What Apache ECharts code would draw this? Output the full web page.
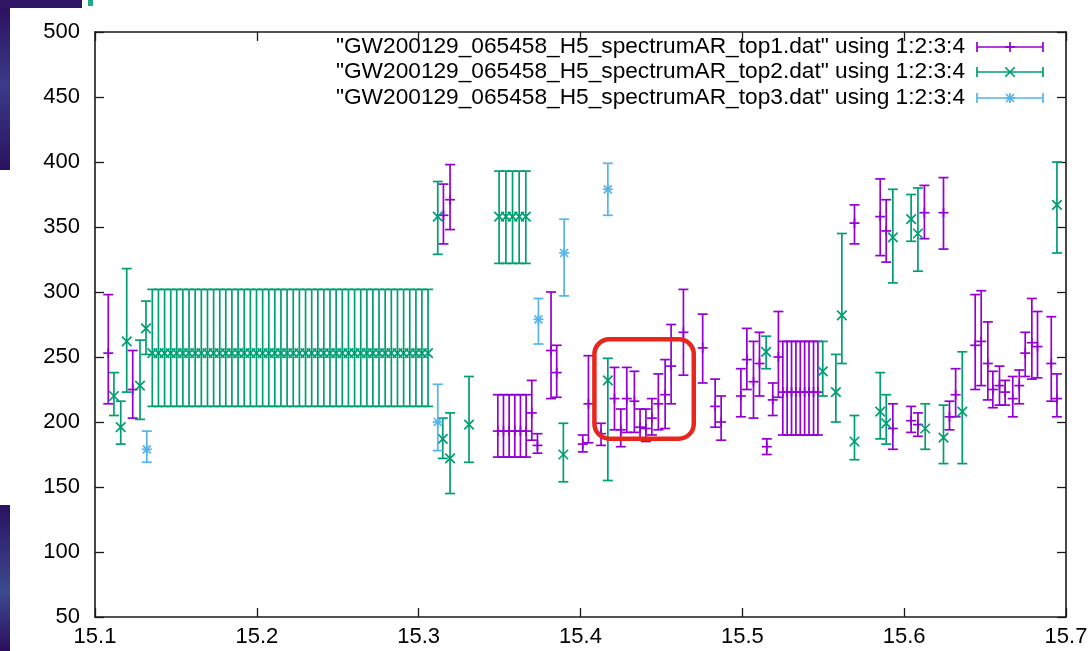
<!DOCTYPE html>
<html>
<head>
<meta charset="utf-8">
<script src="https://cdn.jsdelivr.net/npm/echarts@6/dist/echarts.min.js"></script>
<style>
  html, body { margin: 0; padding: 0; background: #fff; }
  #chart { width: 1091px; height: 651px; }
</style>
</head>
<body>
<div id="chart"></div>
<script>
// Axis ticks
const xTicks = [15.1, 15.2, 15.3, 15.4, 15.5, 15.6, 15.7];
const yTicks = [50, 100, 150, 200, 250, 300, 350, 400, 450, 500];

// Each row: [frequency, value, lower, upper]  (columns 1:2:3:4)
const top1 = [
  [15.1082, 253, 214, 298], [15.1233, 225, 203, 255],
  [15.3153, 359, 337, 383], [15.3194, 371, 348, 398],
  [15.3489, 193, 173, 221], [15.3524, 193, 173, 221], [15.3559, 193, 173, 221],
  [15.3594, 193, 173, 221], [15.3629, 193, 173, 221], [15.3664, 193, 173, 221],
  [15.3699, 207, 186, 232], [15.3734, 182, 176, 191],
  [15.3818, 255, 218, 300], [15.3853, 238, 219, 259],
  [15.4014, 183, 177, 190], [15.4049, 214, 184, 251], [15.4127, 191, 182, 199],
  [15.4210, 218, 194, 242], [15.4249, 194, 181, 210], [15.4286, 218, 192, 242],
  [15.4333, 216, 192, 239], [15.4368, 196, 187, 210], [15.4404, 195, 185, 210],
  [15.4441, 203, 190, 218], [15.4481, 214, 194, 237], [15.4523, 221, 195, 248],
  [15.4560, 243, 214, 275], [15.4636, 269, 236, 302], [15.4755, 257, 230, 283],
  [15.4832, 212, 196, 233], [15.4869, 200, 186, 220],
  [15.4991, 220, 204, 241], [15.5028, 248, 225, 272], [15.5069, 231, 203, 262],
  [15.5106, 245, 220, 269], [15.5151, 181, 175, 187], [15.5188, 217, 205, 230],
  [15.5223, 250, 219, 285],
  [15.5250, 223, 190, 262], [15.5277, 223, 190, 262], [15.5304, 223, 190, 262],
  [15.5331, 223, 190, 262], [15.5358, 223, 190, 262], [15.5385, 223, 190, 262],
  [15.5412, 223, 190, 262], [15.5440, 223, 190, 262], [15.5467, 223, 190, 262],
  [15.5693, 353, 337, 367], [15.5852, 358, 328, 387], [15.5889, 347, 323, 371],
  [15.5930, 195, 179, 214], [15.6043, 201, 192, 212], [15.6085, 198, 189, 207],
  [15.6125, 361, 341, 382], [15.6243, 361, 333, 388],
  [15.6280, 204, 194, 216], [15.6318, 221, 204, 241],
  [15.6439, 259, 225, 298], [15.6476, 262, 228, 301], [15.6517, 245, 217, 277],
  [15.6548, 225, 211, 239], [15.6589, 228, 213, 243], [15.6624, 223, 213, 232],
  [15.6671, 218, 204, 235], [15.6711, 228, 214, 240], [15.6748, 253, 235, 269],
  [15.6789, 261, 233, 295], [15.6824, 258, 234, 285],
  [15.6909, 245, 216, 281], [15.6944, 218, 204, 237]
];

const top2 = [
  [15.1117, 220, 205, 238], [15.1159, 196, 183, 216], [15.1196, 262, 223, 318],
  [15.1278, 228, 202, 263], [15.1315, 272, 252, 293],
  [15.1354, 253, 212, 302], [15.1392, 253, 212, 302], [15.1430, 253, 212, 302],
  [15.1468, 253, 212, 302], [15.1505, 253, 212, 302], [15.1543, 253, 212, 302],
  [15.1581, 253, 212, 302], [15.1619, 253, 212, 302], [15.1657, 253, 212, 302],
  [15.1695, 253, 212, 302], [15.1733, 253, 212, 302], [15.1771, 253, 212, 302],
  [15.1808, 253, 212, 302], [15.1846, 253, 212, 302], [15.1884, 253, 212, 302],
  [15.1922, 253, 212, 302], [15.1960, 253, 212, 302], [15.1998, 253, 212, 302],
  [15.2036, 253, 212, 302], [15.2074, 253, 212, 302], [15.2111, 253, 212, 302],
  [15.2149, 253, 212, 302], [15.2187, 253, 212, 302], [15.2225, 253, 212, 302],
  [15.2263, 253, 212, 302], [15.2301, 253, 212, 302], [15.2339, 253, 212, 302],
  [15.2377, 253, 212, 302], [15.2414, 253, 212, 302], [15.2452, 253, 212, 302],
  [15.2490, 253, 212, 302], [15.2528, 253, 212, 302], [15.2566, 253, 212, 302],
  [15.2604, 253, 212, 302], [15.2642, 253, 212, 302], [15.2680, 253, 212, 302],
  [15.2717, 253, 212, 302], [15.2755, 253, 212, 302], [15.2793, 253, 212, 302],
  [15.2831, 253, 212, 302], [15.2869, 253, 212, 302], [15.2907, 253, 212, 302],
  [15.2945, 253, 212, 302], [15.2983, 253, 212, 302], [15.3020, 253, 212, 302],
  [15.3058, 253, 212, 302],
  [15.3118, 358, 329, 385], [15.3149, 187, 172, 203], [15.3194, 172, 145, 207],
  [15.3311, 198, 169, 235],
  [15.3497, 358, 322, 393], [15.3539, 358, 322, 393], [15.3580, 358, 322, 393],
  [15.3621, 358, 322, 393], [15.3662, 358, 322, 393],
  [15.3894, 175, 154, 199], [15.4169, 232, 155, 249],
  [15.5147, 254, 241, 266], [15.5497, 239, 220, 262], [15.5578, 223, 200, 252],
  [15.5615, 282, 245, 345], [15.5693, 185, 171, 205],
  [15.5852, 208, 187, 238], [15.5889, 199, 183, 221], [15.5930, 342, 307, 379],
  [15.6043, 356, 339, 375], [15.6085, 345, 316, 380], [15.6130, 195, 179, 214],
  [15.6243, 188, 168, 213], [15.6359, 208, 168, 254],
  [15.6944, 367, 330, 400]
];

const top3 = [
  [15.1320, 179, 169, 193], [15.3118, 200, 178, 229], [15.3740, 279, 260, 295],
  [15.3899, 330, 297, 356], [15.4169, 379, 359, 399]
];

const legendLabels = [
  '"GW200129_065458_H5_spectrumAR_top1.dat" using 1:2:3:4',
  '"GW200129_065458_H5_spectrumAR_top2.dat" using 1:2:3:4',
  '"GW200129_065458_H5_spectrumAR_top3.dat" using 1:2:3:4'
];

// Highlighted region (frequency and value corners)
const highlightBox = [[15.4086, 263.6], [15.4700, 187.2]];

const colors = ['#9400d3', '#009e73', '#56b4e9'];
const markers = ['plus', 'cross', 'star'];
const FONT = '"Liberation Sans", Arial, Helvetica, sans-serif';
const LW = 1.7;
const CAP = 5;

function markerShapes(kind, x, y, color, size) {
  const s = { stroke: color, lineWidth: LW, fill: null };
  const out = [];
  const h = size;
  if (kind === 'plus' || kind === 'star') {
    out.push({ type: 'line', shape: { x1: x - h, y1: y, x2: x + h, y2: y }, style: s });
    out.push({ type: 'line', shape: { x1: x, y1: y - h, x2: x, y2: y + h }, style: s });
  }
  if (kind === 'cross' || kind === 'star') {
    const d = kind === 'star' ? h * 0.8 : h * 0.95;
    out.push({ type: 'line', shape: { x1: x - d, y1: y - d, x2: x + d, y2: y + d }, style: s });
    out.push({ type: 'line', shape: { x1: x - d, y1: y + d, x2: x + d, y2: y - d }, style: s });
  }
  return out;
}

function errorBarSeries(name, rows, color, marker) {
  return {
    type: 'custom',
    name: name,
    data: rows,
    encode: { x: 0, y: [1, 2, 3] },
    renderItem: function (params, api) {
      const f = api.value(0);
      const c = api.coord([f, api.value(1)]);
      const lo = api.coord([f, api.value(2)]);
      const hi = api.coord([f, api.value(3)]);
      const s = { stroke: color, lineWidth: LW, fill: null };
      const children = [
        { type: 'line', shape: { x1: c[0], y1: hi[1], x2: c[0], y2: lo[1] }, style: s },
        { type: 'line', shape: { x1: c[0] - CAP, y1: hi[1], x2: c[0] + CAP, y2: hi[1] }, style: s },
        { type: 'line', shape: { x1: c[0] - CAP, y1: lo[1], x2: c[0] + CAP, y2: lo[1] }, style: s }
      ].concat(markerShapes(marker, c[0], c[1], color, 5));
      return { type: 'group', children: children };
    }
  };
}

const chart = echarts.init(document.getElementById('chart'), null, { renderer: 'canvas' });

const axisLine = { show: true, lineStyle: { color: '#1a1a1a', width: 1.6 } };
const axisTick = { show: true, inside: true, length: 9, lineStyle: { color: '#1a1a1a', width: 1.3 } };

const xMin = xTicks[0], xMax = xTicks[xTicks.length - 1];
const yMin = yTicks[0], yMax = yTicks[yTicks.length - 1];

const option = {
  animation: false,
  backgroundColor: '#ffffff',
  grid: { left: 95, right: 25, top: 32, bottom: 34, containLabel: false },
  xAxis: [
    {
      type: 'value', min: xMin, max: xMax, interval: 0.1, position: 'bottom',
      axisLine: axisLine, axisTick: axisTick, splitLine: { show: false },
      axisLabel: {
        color: '#000', fontSize: 22, fontFamily: FONT, margin: 9,
        formatter: function (v) { return v.toFixed(1); }
      }
    },
    {
      type: 'value', min: xMin, max: xMax, interval: 0.1, position: 'top',
      axisLine: axisLine, axisTick: axisTick, splitLine: { show: false },
      axisLabel: { show: false }
    }
  ],
  yAxis: [
    {
      type: 'value', min: yMin, max: yMax, interval: 50, position: 'left',
      axisLine: axisLine, axisTick: axisTick, splitLine: { show: false },
      axisLabel: { color: '#000', fontSize: 22, fontFamily: FONT, margin: 15 }
    },
    {
      type: 'value', min: yMin, max: yMax, interval: 50, position: 'right',
      axisLine: axisLine, axisTick: axisTick, splitLine: { show: false },
      axisLabel: { show: false }
    }
  ],
  series: [
    errorBarSeries(legendLabels[0], top1, colors[0], markers[0]),
    errorBarSeries(legendLabels[1], top2, colors[1], markers[1]),
    errorBarSeries(legendLabels[2], top3, colors[2], markers[2])
  ]
};

chart.setOption(option);

// Key in the upper right, drawn in the plotting program's own style
const graphics = [];
const keyTextRight = 965;
const keyLineX1 = 977, keyLineX2 = 1043;
const keyRows = [47, 72, 98];
legendLabels.forEach(function (label, i) {
  const y = keyRows[i];
  const s = { stroke: colors[i], lineWidth: LW, fill: null };
  graphics.push({
    type: 'text', x: keyTextRight, y: y, silent: true,
    style: { text: label, font: '22.7px ' + FONT, fill: '#000', align: 'right', verticalAlign: 'middle' }
  });
  graphics.push({ type: 'line', shape: { x1: keyLineX1, y1: y, x2: keyLineX2, y2: y }, style: s });
  graphics.push({ type: 'line', shape: { x1: keyLineX1, y1: y - CAP, x2: keyLineX1, y2: y + CAP }, style: s });
  graphics.push({ type: 'line', shape: { x1: keyLineX2, y1: y - CAP, x2: keyLineX2, y2: y + CAP }, style: s });
  markerShapes(markers[i], (keyLineX1 + keyLineX2) / 2, y, colors[i], 5).forEach(function (m) { graphics.push(m); });
});

// Rounded red outline around the dip
const p1 = chart.convertToPixel({ xAxisIndex: 0, yAxisIndex: 0 }, highlightBox[0]);
const p2 = chart.convertToPixel({ xAxisIndex: 0, yAxisIndex: 0 }, highlightBox[1]);
graphics.push({
  type: 'rect', z: 100,
  shape: { x: p1[0], y: p1[1], width: p2[0] - p1[0], height: p2[1] - p1[1], r: 15 },
  style: { fill: null, stroke: '#e8261b', lineWidth: 4.5 }
});

// Strip of the neighbouring spectrogram along the left and top edges
graphics.push({
  type: 'rect', shape: { x: 0, y: 0, width: 10, height: 170 },
  style: { fill: new echarts.graphic.LinearGradient(0, 0, 0, 1, [
    { offset: 0, color: '#2b0d5c' }, { offset: 0.5, color: '#3b3a8a' }, { offset: 1, color: '#2a1260' }
  ]) }
});
graphics.push({
  type: 'rect', shape: { x: 0, y: 505, width: 10, height: 146 },
  style: { fill: new echarts.graphic.LinearGradient(0, 0, 0, 1, [
    { offset: 0, color: '#2a1260' }, { offset: 0.6, color: '#3c4a90' }, { offset: 1, color: '#2b0d5c' }
  ]) }
});
graphics.push({ type: 'rect', shape: { x: 0, y: 0, width: 82, height: 8 }, style: { fill: '#2e1565' } });
graphics.push({ type: 'rect', shape: { x: 88, y: 0, width: 5, height: 6 }, style: { fill: '#23a884' } });

chart.setOption({ graphic: graphics });
</script>
</body>
</html>
